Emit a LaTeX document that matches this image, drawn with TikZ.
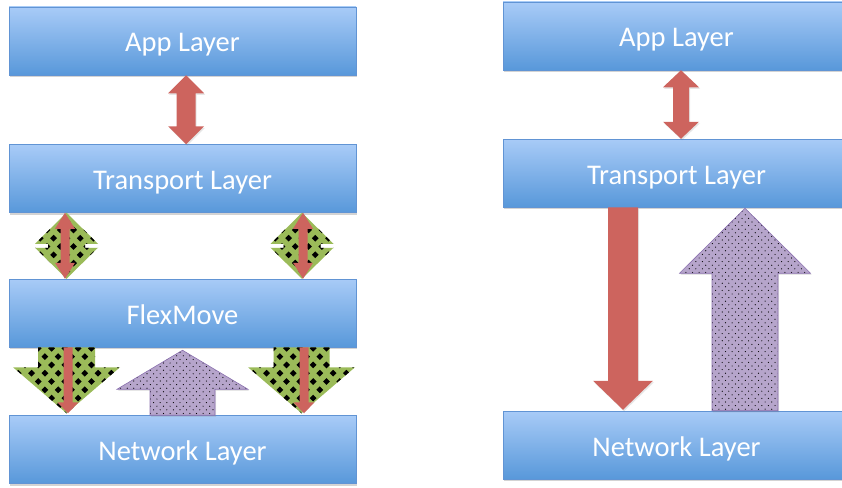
\documentclass[tikz,border=0pt]{standalone}
\usepackage{fontspec}
\setmainfont{Carlito}
\usetikzlibrary{shadows,calc}

\definecolor{boxtop}{HTML}{A8CBF7}
\definecolor{boxbot}{HTML}{5898DA}
\definecolor{boxline}{HTML}{6194D4}
\definecolor{redarrow}{HTML}{CD645E}
\definecolor{greenarrow}{HTML}{9BBB59}
\definecolor{purplearrow}{HTML}{B6A5CB}
\definecolor{purpleline}{HTML}{8A70AE}

% block arrows between two points (x taken from the first point)
\newcommand\dblblock[6]{% style, top tip, bottom tip, half shaft, half head, head length
  \path[#1] let \p1=#2, \p2=#3 in
    (\x1,\y1) -- (\x1+#5,\y1-#6) -- (\x1+#4,\y1-#6) -- (\x1+#4,\y2+#6) -- (\x1+#5,\y2+#6)
    -- (\x1,\y2) -- (\x1-#5,\y2+#6) -- (\x1-#4,\y2+#6) -- (\x1-#4,\y1-#6) -- (\x1-#5,\y1-#6) -- cycle;}
\newcommand\downblock[6]{% style, flat top, bottom tip, half shaft, half head, head length
  \path[#1] let \p1=#2, \p2=#3 in
    (\x1-#4,\y1) -- (\x1+#4,\y1) -- (\x1+#4,\y2+#6) -- (\x1+#5,\y2+#6) -- (\x1,\y2)
    -- (\x1-#5,\y2+#6) -- (\x1-#4,\y2+#6) -- cycle;}
\newcommand\upblock[6]{% style, top tip, flat bottom, half shaft, half head, head length
  \path[#1] let \p1=#2, \p2=#3 in
    (\x1,\y1) -- (\x1+#5,\y1-#6) -- (\x1+#4,\y1-#6) -- (\x1+#4,\y2) -- (\x1-#4,\y2)
    -- (\x1-#4,\y1-#6) -- (\x1-#5,\y1-#6) -- cycle;}

% one black diamond of the checker fill, centred at (#1,#2)
\newcommand\checkdiamond[2]{%
  \fill[black] (#1,#2-3.4) -- (#1+3.4,#2) -- (#1,#2+3.4) -- (#1-3.4,#2) -- cycle;}

\tikzset{
  layerbox/.style={minimum width=347pt, minimum height=68pt, inner sep=0pt,
    text height=22pt, text depth=0pt,
    top color=boxtop, bottom color=boxbot, draw=boxline, line width=0.5pt,
    text=white, font=\fontsize{28.5}{32}\selectfont,
    drop shadow={shadow xshift=1pt, shadow yshift=-2pt, opacity=0.35}},
  softshadow/.style={drop shadow={shadow xshift=1pt, shadow yshift=-1.5pt, opacity=0.2}},
  redblock/.style={fill=redarrow},
  % green with staggered rows of black diamonds: x0, columns, y0, rows
  greenblock/.style n args={4}{fill=greenarrow, path picture={
    \foreach \i in {0,...,#2} \foreach \j in {0,...,#4} {
      \pgfmathsetmacro\cx{#1+13.3*\i}
      \pgfmathsetmacro\cy{#3+16.6*\j}
      \checkdiamond{\cx}{\cy}
      \checkdiamond{\cx+6.65}{\cy+8.3}
    }}},
  % lilac with staggered black dots: x0, columns, y0, rows
  purpleblock/.style n args={4}{fill=purplearrow, draw=purpleline, line width=0.6pt, softshadow,
    path picture={
    \foreach \i in {0,...,#2} \foreach \j in {0,...,#4} {
      \fill[black] ({#1+6.6*\i},{#3+7.2*\j}) circle[radius=0.6pt];
      \fill[black] ({#1+6.6*\i+3.3},{#3+7.2*\j+3.6}) circle[radius=0.6pt];
    }}},
}

\begin{document}
\begin{tikzpicture}[x=1pt, y=-1pt]
\useasboundingbox (0,0) rectangle (842,487);
\clip (0,0) rectangle (842,487);

% ---- stack with FlexMove ----
\node[layerbox] (appL)  at (182.5,41)    {App Layer};
\node[layerbox] (trL)   at (182.5,178.5) {Transport Layer};
\node[layerbox] (flexL) at (182.5,313)   {FlexMove};
\node[layerbox] (netL)  at (182.5,449.5) {Network Layer};

% ---- plain stack ----
\node[layerbox] (appR) at (676.5,36)  {App Layer};
\node[layerbox] (trR)  at (676.5,173) {Transport Layer};
\node[layerbox] (netR) at (676.5,445) {Network Layer};

% app <-> transport
\dblblock{redblock,softshadow}{(186,0 |- appL.south)}{(186,0 |- trL.north)}{9.5pt}{18pt}{18pt}
\dblblock{redblock,softshadow}{(681,0 |- appR.south)}{(681,0 |- trR.north)}{8pt}{18pt}{17pt}

% transport <-> FlexMove
\dblblock{greenblock={27}{6}{205}{5}}{(66.5,0 |- trL.south)}{(66.5,0 |- flexL.north)}{18.5pt}{31.5pt}{31pt}
\dblblock{greenblock={262}{6}{205}{5}}{(302,0 |- trL.south)}{(302,0 |- flexL.north)}{18.5pt}{31.5pt}{31pt}
\dblblock{redblock}{(65,0 |- trL.south)}{(65,0 |- flexL.north)}{4.5pt}{10pt}{16pt}
\dblblock{redblock}{(303,0 |- trL.south)}{(303,0 |- flexL.north)}{4.5pt}{10pt}{16pt}

% FlexMove -> network
\downblock{greenblock={5}{9}{340}{5}}{(66.5,0 |- flexL.south)}{($(66.5,0 |- netL.north)+(0,-2)$)}{28.5pt}{53.5pt}{46pt}
\downblock{greenblock={240}{9}{340}{5}}{(301.5,0 |- flexL.south)}{($(301.5,0 |- netL.north)+(0,-2)$)}{28pt}{53.5pt}{46pt}
\downblock{redblock}{(68,0 |- flexL.south)}{($(68,0 |- netL.north)+(0,-2)$)}{4.5pt}{10.5pt}{11pt}
\downblock{redblock}{(304,0 |- flexL.south)}{($(304,0 |- netL.north)+(0,-2)$)}{4.5pt}{10.5pt}{11pt}

% network -> FlexMove
\upblock{purpleblock={114}{21}{345}{10}}{($(182.5,0 |- flexL.south)+(0,3)$)}{(182.5,0 |- netL.north)}{32.5pt}{65.5pt}{39pt}

% plain stack: transport -> network and back
\downblock{redblock,softshadow}{(623,0 |- trR.south)}{($(623,0 |- netR.north)+(0,-1)$)}{15pt}{30pt}{29pt}
\upblock{purpleblock={676}{21}{204}{30}}{($(745,0 |- trR.south)+(0,1)$)}{(745,0 |- netR.north)}{33pt}{65.5pt}{65pt}
\end{tikzpicture}
\end{document}
